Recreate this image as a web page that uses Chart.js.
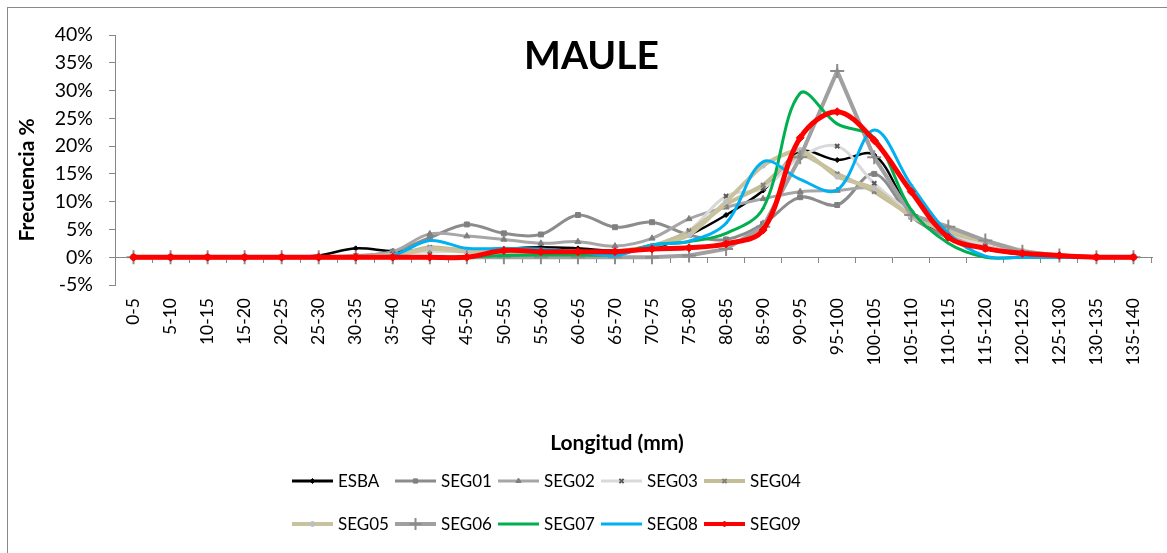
<!DOCTYPE html>
<html>
<head>
<title>Maule</title>
<script src="https://cdn.jsdelivr.net/npm/chart.js"></script>
<style>
    body { margin: 0; background: #fff; }
    #frame { position: absolute; left: 7px; top: 7px; width: 1200px; height: 600px; border: 1px solid #898989; }
    #chart { position: absolute; left: 0; top: 0; }
</style>
</head>
<body>
<div id="frame"></div>
<canvas id="chart" width="1167" height="553"></canvas>

<script type="text/javascript">
    // length classes (mm)
    const tallas = ['0-5', '5-10', '10-15', '15-20', '20-25', '25-30', '30-35', '35-40', '40-45', '45-50',
        '50-55', '55-60', '60-65', '65-70', '70-75', '75-80', '80-85', '85-90', '90-95', '95-100',
        '100-105', '105-110', '110-115', '115-120', '120-125', '125-130', '130-135', '135-140'];

    // frequency (%) per length class
    const esba  = [0, 0, 0, 0, 0, 0.3, 1.6, 1.1, 1.3, 1.2, 1.5, 1.8, 1.6, 1.2, 1.6, 4, 7.6, 12, 19, 17.5, 18.4, 8.2, 3.5, 1.5, 0.5, 0.2, 0, 0];
    const seg01 = [0, 0, 0, 0, 0, 0, 0.2, 1, 3.5, 5.9, 4.3, 4.1, 7.6, 5.4, 6.3, 4, 3.2, 6, 10.8, 9.4, 15, 7.3, 3.5, 1.5, 0.5, 0.2, 0, 0];
    const seg02 = [0, 0, 0, 0, 0, 0, 0.3, 1, 4.2, 3.8, 3.2, 2.5, 2.8, 2, 3.4, 6.9, 9, 10.5, 11.8, 12, 12.3, 8, 4, 2, 0.8, 0.3, 0, 0];
    const seg03 = [0, 0, 0, 0, 0, 0, 0, 0.5, 1, 1, 1, 0.8, 0.8, 0.8, 2, 4.8, 11, 12.4, 18, 20, 13.3, 8, 4.5, 2, 0.6, 0.2, 0, 0];
    const seg04 = [0, 0, 0, 0, 0, 0, 0, 0.3, 1.8, 1.2, 1, 0.8, 0.8, 1, 2, 4.6, 9.5, 13, 18.5, 15, 11.8, 7.5, 4.5, 2.8, 1, 0.3, 0, 0];
    const seg05 = [0, 0, 0, 0, 0, 0, 0, 0.3, 1.5, 1, 0.8, 0.8, 0.8, 1, 2, 4, 10, 16.5, 19.3, 14.5, 12.4, 7.3, 4.8, 3, 1.2, 0.3, 0, 0];
    const seg06 = [0, 0, 0, 0, 0, 0, 0, 0, 0, 0, 0, 0, 0, 0, 0, 0.3, 1.5, 5.5, 18, 33.5, 18, 7.6, 5.5, 3, 1, 0.3, 0, 0];
    const seg07 = [0, 0, 0, 0, 0, 0, 0, 0, 0, 0, 0.3, 0.4, 0.4, 0.5, 2.2, 2.8, 4.3, 8.8, 29.5, 24, 21.5, 8.5, 2.5, 0, 0, 0, 0, 0];
    const seg08 = [0, 0, 0, 0, 0, 0, 0, 0.3, 3, 1.6, 1.6, 1.5, 1, 0.3, 2.2, 2.9, 6.1, 17.2, 14, 12.1, 22.9, 13, 4.3, 0.2, 0, 0, 0, 0];
    const seg09 = [0, 0, 0, 0, 0, 0, 0, 0, 0, 0, 1.2, 1, 1, 1, 1.5, 1.7, 2.4, 4.9, 21.5, 26.2, 21, 11.8, 3.6, 1.6, 0.7, 0.3, 0, 0];

    const FONT = 'Lato, "Open Sans", sans-serif';
    const AXIS_GREY = '#868686';

    function serie(label, data, color, width, marker, markerColor, radius, tension) {
        return {
            label: label,
            data: data,
            borderColor: color,
            backgroundColor: color,
            borderWidth: width,
            pointStyle: marker,
            pointRadius: radius,
            pointBackgroundColor: markerColor,
            pointBorderColor: markerColor,
            pointBorderWidth: marker === 'cross' || marker === 'crossRot' ? 2 : 1,
            tension: tension,
            fill: false
        };
    }

    const datasets = [
        serie('ESBA',  esba,  '#000000', 2.5, 'rectRot',  '#000000', 2.5, 0.35),
        serie('SEG01', seg01, '#8C8C8C', 3,   'rect',     '#808080', 3.5, 0.35),
        serie('SEG02', seg02, '#A6A6A6', 3,   'triangle', '#7F7F7F', 3.5, 0.35),
        serie('SEG03', seg03, '#D9D9D9', 3,   'crossRot', '#595959', 3,   0.35),
        serie('SEG04', seg04, '#C4BD97', 4,   'crossRot', '#7F7F7F', 3,   0.2),
        serie('SEG05', seg05, '#C9C29E', 4,   'circle',   '#BFBFBF', 2.5, 0.2),
        serie('SEG06', seg06, '#A0A0A0', 4,   'cross',    '#8C8C8C', 7,   0),
        serie('SEG07', seg07, '#00B050', 3,   'line',     '#00B050', 2,   0.35),
        serie('SEG08', seg08, '#00B0F0', 3,   'line',     '#00B0F0', 2,   0.35),
        serie('SEG09', seg09, '#FF0000', 5,   'rectRot',  '#FF0000', 4,   0.35)
    ];
    // later series are painted over earlier ones
    datasets.forEach((d, i) => { d.order = datasets.length - 1 - i; });

    function drawMarker(ctx, ds, x, y) {
        ctx.fillStyle = ds.pointBackgroundColor;
        ctx.strokeStyle = ds.pointBorderColor;
        ctx.lineWidth = ds.pointBorderWidth;
        const r = ds.pointStyle === 'cross' ? 6 : Math.min(ds.pointRadius, 3);
        Chart.helpers.drawPoint(ctx, {
            pointStyle: ds.pointStyle,
            radius: r,
            borderWidth: ds.pointBorderWidth,
            rotation: 0
        }, x, y);
    }

    // chart title, axis titles and the two-row legend
    const textos = {
        id: 'textos',
        afterDraw(chart) {
            const ctx = chart.ctx;
            ctx.save();
            ctx.fillStyle = '#000';
            ctx.textAlign = 'center';
            ctx.textBaseline = 'middle';
            ctx.font = 'bold 39px ' + FONT;
            ctx.fillText('MAULE', chart.width / 2 + 8, 56);

            ctx.font = 'bold 21px ' + FONT;
            ctx.fillText('Longitud (mm)', 617, 443);

            ctx.save();
            ctx.translate(27, 180);
            ctx.rotate(-Math.PI / 2);
            ctx.fillText('Frecuencia %', 0, 0);
            ctx.restore();

            ctx.font = '17px ' + FONT;
            ctx.textAlign = 'left';
            chart.data.datasets.forEach((ds, i) => {
                const x = 292 + (i % 5) * 103;
                const y = 481 + Math.floor(i / 5) * 43;
                ctx.strokeStyle = ds.borderColor;
                ctx.lineWidth = Math.max(3, Math.min(ds.borderWidth, 4));
                ctx.beginPath();
                ctx.moveTo(x, y);
                ctx.lineTo(x + 41, y);
                ctx.stroke();
                drawMarker(ctx, ds, x + 20.5, y);
                ctx.fillStyle = '#000';
                ctx.fillText(ds.label, x + 46, y + 1);
            });
            ctx.restore();
        }
    };

    const ctx = document.getElementById('chart');
    const chart = new Chart(ctx, {
        type: 'line',
        data: { labels: tallas, datasets: datasets },
        plugins: [textos],
        options: {
            responsive: false,
            animation: false,
            devicePixelRatio: 1,
            layout: { padding: { left: 0, right: 15, top: 35, bottom: 95 } },
            plugins: { legend: { display: false }, tooltip: { enabled: false } },
            scales: {
                x: {
                    type: 'category',
                    offset: true,
                    grid: { display: false },
                    border: { display: false },
                    ticks: {
                        color: '#000', font: { family: FONT, size: 17.5 }, padding: 5,
                        autoSkip: false, maxRotation: 90, minRotation: 90
                    },
                    afterFit: s => { s.height = 173; }
                },
                // category axis drawn through 0 %
                x0: {
                    type: 'category',
                    axis: 'x',
                    labels: tallas,
                    position: { y: 0 },
                    offset: true,
                    grid: { offset: true, drawOnChartArea: false, tickLength: 5, color: AXIS_GREY },
                    border: { color: AXIS_GREY, width: 1 },
                    ticks: { display: false }
                },
                y: {
                    min: -5, max: 40,
                    grid: { drawOnChartArea: false, tickLength: 6, color: AXIS_GREY },
                    border: { color: AXIS_GREY, width: 1 },
                    ticks: {
                        stepSize: 5, color: '#000', padding: 16,
                        font: { family: FONT, size: 19.5 },
                        callback: v => v + '%'
                    },
                    afterFit: s => { s.width = 115; }
                }
            }
        }
    });
</script>
</body>
</html>
